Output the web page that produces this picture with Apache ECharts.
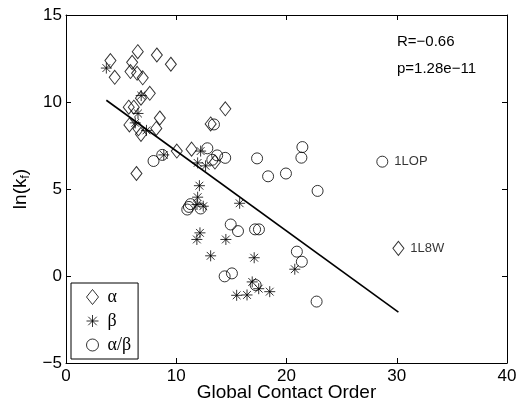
<!DOCTYPE html>
<html><head><meta charset="utf-8">
<script src="https://cdn.jsdelivr.net/npm/echarts@6/dist/echarts.min.js"></script>
<style>html,body{margin:0;padding:0;background:#fff}#c{width:517px;height:404px}</style>
</head><body><div id="c"></div>
<script>
// α proteins
const alphaX = [4.03, 4.42, 6.00, 6.51, 5.85, 6.45, 6.96, 8.24, 9.51, 7.60, 6.80, 5.69, 6.15, 5.75, 6.57, 6.80, 8.51, 8.19, 14.45, 13.12, 10.05, 11.39, 6.39, 13.51, 30.15];
const alphaY = [12.38, 11.42, 12.28, 12.89, 11.75, 11.65, 11.39, 12.70, 12.17, 10.50, 10.22, 9.70, 9.70, 8.68, 8.46, 8.14, 9.08, 8.48, 9.61, 8.74, 7.18, 7.29, 5.89, 6.55, 1.59];
// β proteins
const betaX = [3.66, 6.82, 6.53, 6.28, 7.30, 8.87, 12.21, 11.94, 12.66, 12.10, 11.94, 12.45, 11.88, 15.75, 12.15, 11.87, 14.50, 13.12, 17.07, 20.75, 16.89, 17.48, 18.48, 15.48, 16.42];
const betaY = [11.95, 10.37, 9.34, 8.80, 8.37, 6.96, 7.18, 6.50, 6.33, 5.19, 4.53, 4.01, 4.11, 4.18, 2.48, 2.10, 2.10, 1.16, 1.05, 0.39, -0.34, -0.73, -0.90, -1.11, -1.09];
// α/β proteins
const abX = [7.94, 8.73, 12.82, 13.42, 13.71, 13.27, 14.44, 17.33, 21.44, 21.35, 18.33, 19.95, 22.82, 28.69, 11.15, 11.00, 11.30, 12.21, 14.94, 15.60, 17.15, 17.50, 20.94, 21.39, 14.39, 15.05, 22.73, 17.20];
const abY = [6.61, 6.96, 7.34, 8.71, 6.93, 6.68, 6.79, 6.76, 7.41, 6.80, 5.73, 5.89, 4.89, 6.57, 3.97, 3.82, 4.13, 3.88, 2.96, 2.58, 2.68, 2.68, 1.40, 0.82, -0.02, 0.15, -1.47, -0.52];
// regression line
const fitX = [3.66, 30.15];
const fitY = [10.10, -2.08];
// point annotations
const annotSeries = ['ab', 'alpha'];
const annotIndex = [13, 24];
const annotText = ['1LOP', '1L8W'];
// axes
const xTicks = [0, 10, 20, 30, 40];
const yTicks = [-5, 0, 5, 10, 15];
const statsText = ['R=\u22120.66', 'p=1.28e\u221211'];

const FONT = 'Liberation Sans, Arial, Helvetica, sans-serif';
function build(key, xs, ys) {
  return xs.map((x, i) => {
    const k = annotSeries.findIndex((s, j) => s === key && annotIndex[j] === i);
    if (k < 0) return [x, ys[i]];
    return {value: [x, ys[i]], label: {show: true, position: 'right', distance: 6,
      formatter: annotText[k], color: '#000', fontSize: 13, fontFamily: FONT}};
  });
}
const fmt = v => (v < 0 ? '\u2212' + Math.abs(v) : String(v));
const star = 'path://M0,-10L0,10M-10,0L10,0M-7.07,-7.07L7.07,7.07M-7.07,7.07L7.07,-7.07';
const tickStyle = {show: true, inside: true, length: 5, lineStyle: {color: '#000', width: 1}};
const axisLine = {show: true, onZero: false, lineStyle: {color: '#000', width: 1}};
const markStyle = {color: 'rgba(0,0,0,0)', borderColor: '#000', borderWidth: 1};

const chart = echarts.init(document.getElementById('c'), null, {renderer: 'canvas'});
chart.setOption({
  animation: false,
  backgroundColor: '#fff',
  grid: {left: 66, right: 10, top: 15, bottom: 41, containLabel: false, outerBoundsMode: 'none'},
  xAxis: [{
    type: 'value', min: xTicks[0], max: xTicks[xTicks.length - 1], interval: 10,
    axisLine, axisTick: tickStyle, splitLine: {show: false},
    axisLabel: {color: '#000', fontSize: 17, fontFamily: FONT, margin: 5, formatter: fmt},
    name: 'Global Contact Order', nameLocation: 'middle', nameGap: 20, nameMoveOverlap: false,
    nameTextStyle: {color: '#000', fontSize: 19, fontFamily: FONT}
  }, {
    type: 'value', position: 'top', min: 0, max: 40, interval: 10,
    axisLine, axisTick: tickStyle, axisLabel: {show: false}, splitLine: {show: false}
  }],
  yAxis: [{
    type: 'value', min: yTicks[0], max: yTicks[yTicks.length - 1], interval: 5,
    axisLine, axisTick: tickStyle, splitLine: {show: false},
    axisLabel: {color: '#000', fontSize: 17, fontFamily: FONT, margin: 4, formatter: fmt},
    name: '{m|ln(k}{s|f}{m|)}', nameLocation: 'middle', nameGap: 34, nameMoveOverlap: false,
    nameTextStyle: {color: '#000', fontSize: 19, fontFamily: FONT,
      rich: {m: {fontSize: 19, fontFamily: FONT, color: '#000', lineHeight: 22},
             s: {fontSize: 12, fontFamily: FONT, color: '#000', verticalAlign: 'bottom', lineHeight: 12, padding: [10, 0, 0, 0]}}}
  }, {
    type: 'value', position: 'right', min: -5, max: 15, interval: 5,
    axisLine, axisTick: tickStyle, axisLabel: {show: false}, splitLine: {show: false}
  }],
  legend: {
    orient: 'vertical', left: 71, top: 283,
    data: ['α', 'β', 'α/β'],
    itemWidth: 12, itemHeight: 15, itemGap: 4,
    padding: [4, 7, 4, 15],
    itemStyle: {color: 'rgba(0,0,0,0)', borderColor: '#000', borderWidth: 1},
    borderColor: '#000', borderWidth: 1, backgroundColor: '#fff',
    textStyle: {color: '#000', fontSize: 18, fontFamily: 'Liberation Serif, Times New Roman, serif', lineHeight: 20, padding: [0, 0, 0, 4]}
  },
  graphic: [
    {type: 'text', left: 397, top: 34, style: {text: statsText[0], fill: '#000', fontSize: 15, fontFamily: FONT}},
    {type: 'text', left: 397, top: 61, style: {text: statsText[1], fill: '#000', fontSize: 15, fontFamily: FONT}}
  ],
  series: [
    {name: 'fit', type: 'line', data: fitX.map((x, i) => [x, fitY[i]]), symbol: 'none',
     lineStyle: {color: '#000', width: 1.6}, silent: true, z: 1},
    {name: 'α', type: 'scatter', data: build('alpha', alphaX, alphaY), symbol: 'diamond', symbolSize: [11, 14],
     itemStyle: markStyle, z: 3},
    {name: 'β', type: 'scatter', data: build('beta', betaX, betaY), symbol: star, symbolSize: 11,
     itemStyle: markStyle, z: 3},
    {name: 'α/β', type: 'scatter', data: build('ab', abX, abY), symbol: 'circle', symbolSize: 11,
     itemStyle: markStyle, z: 3}
  ]
});
</script></body></html>
